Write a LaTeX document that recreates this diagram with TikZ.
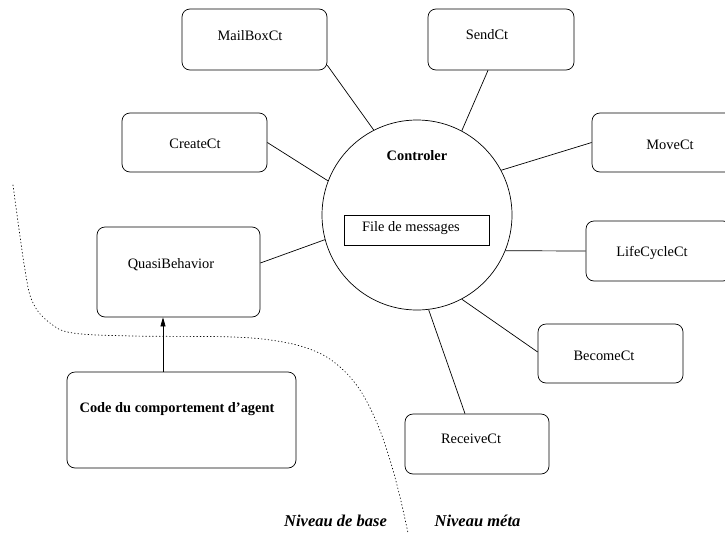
\documentclass[tikz,border=0pt]{standalone}
\usepackage{fontspec}
\setmainfont{Liberation Serif}
\usetikzlibrary{arrows.meta}

\tikzset{
  ctbox/.style={draw, line width=0.7pt, rounded corners=8pt, inner sep=0pt},
  txt/.style={font=\fontsize{14.4}{17}\selectfont},
  link/.style={line width=0.7pt},
  level/.style={font=\fontsize{16.5}{19}\selectfont\bfseries\itshape, anchor=base},
  border/.style={line width=0.7pt, dash pattern=on 0.8pt off 2.6pt, line cap=round}
}

\begin{document}
\begin{tikzpicture}[x=1pt, y=-1pt]
\clip (0,0) rectangle (725,533);

% controller with its message queue
\node[draw, circle, line width=0.7pt, minimum size=190pt, inner sep=0pt,
      label={[txt, font=\fontsize{14.4}{17}\selectfont\bfseries, yshift=59pt]center:Controler}]
      (ctrl) at (417,215) {};
\node[draw, line width=0.7pt, minimum width=145pt, minimum height=30pt, inner sep=0pt,
      label={[txt, xshift=-5.5pt, yshift=2pt]center:File de messages}]
      (fifo) at (416.5,230) {};

% controllers around it
\node[ctbox, minimum width=145pt, minimum height=61pt,
      label={[txt, xshift=-4.5pt, yshift=3.5pt]center:MailBoxCt}] (mail) at (254.5,39.5) {};
\node[ctbox, minimum width=146pt, minimum height=61pt,
      label={[txt, xshift=-14pt, yshift=4.5pt]center:SendCt}] (send) at (501,39.5) {};
\node[ctbox, minimum width=145pt, minimum height=59pt,
      label={[txt, xshift=0.5pt, yshift=-1.5pt]center:CreateCt}] (create) at (194.5,142.5) {};
\node[ctbox, minimum width=145pt, minimum height=59pt,
      label={[txt, xshift=5.5pt, yshift=-2.5pt]center:MoveCt}] (move) at (664.5,142.5) {};
\node[ctbox, minimum width=145pt, minimum height=60pt,
      label={[txt, xshift=-6.5pt, yshift=-2pt]center:LifeCycleCt}] (life) at (658.5,251) {};
\node[ctbox, minimum width=145pt, minimum height=59pt,
      label={[txt, xshift=-6.5pt, yshift=-2.5pt]center:BecomeCt}] (become) at (610.5,353.5) {};
\node[ctbox, minimum width=144pt, minimum height=60pt,
      label={[txt, xshift=-6pt, yshift=5pt]center:ReceiveCt}] (receive) at (477,444) {};
\node[ctbox, minimum width=163pt, minimum height=90pt,
      label={[txt, xshift=-7.5pt, yshift=7pt]center:QuasiBehavior}] (quasi) at (178.5,272) {};
\node[ctbox, minimum width=229pt, minimum height=96pt,
      label={[txt, font=\fontsize{14.4}{17}\selectfont\bfseries, xshift=-4.5pt, yshift=11pt]center:Code du comportement d’agent}]
      (code) at (181.5,420) {};

% links to the controller
\draw[link] ([yshift=5pt]mail.south east) -- (ctrl.117);
\draw[link] ([xshift=-13pt]send.south) -- (ctrl.62);
\draw[link] (create.east) -- (ctrl.159);
\draw[link] (move.west) -- (ctrl.28);
\draw[link] (life.west) -- (ctrl.-22);
\draw[link] ([yshift=1.5pt]become.west) -- (ctrl.-62);
\draw[link] ([xshift=-12pt]receive.north) -- (ctrl.-83);
\draw[link] ([yshift=9pt]quasi.east) -- (ctrl.195);

% behaviour code feeds the quasi-behaviour
\coordinate (up) at ([xshift=-18.5pt]code.north);
\draw[link, -{Triangle[length=9pt, width=5pt]}] (up) -- (up |- quasi.south);

% boundary between base level and meta level
\draw[border] plot[smooth, tension=0.6] coordinates {
  (13,185) (25,270) (33,303) (50,323) (73,333) (133,336) (233,337)
  (283,342) (317,352) (340,367) (360,390) (377,423) (390,460) (400,497) (408,533)};

\node[level] (base) at (335.5,526) {Niveau de base};
\node[level] (meta) at (477.5,526) {Niveau méta};
\end{tikzpicture}
\end{document}
